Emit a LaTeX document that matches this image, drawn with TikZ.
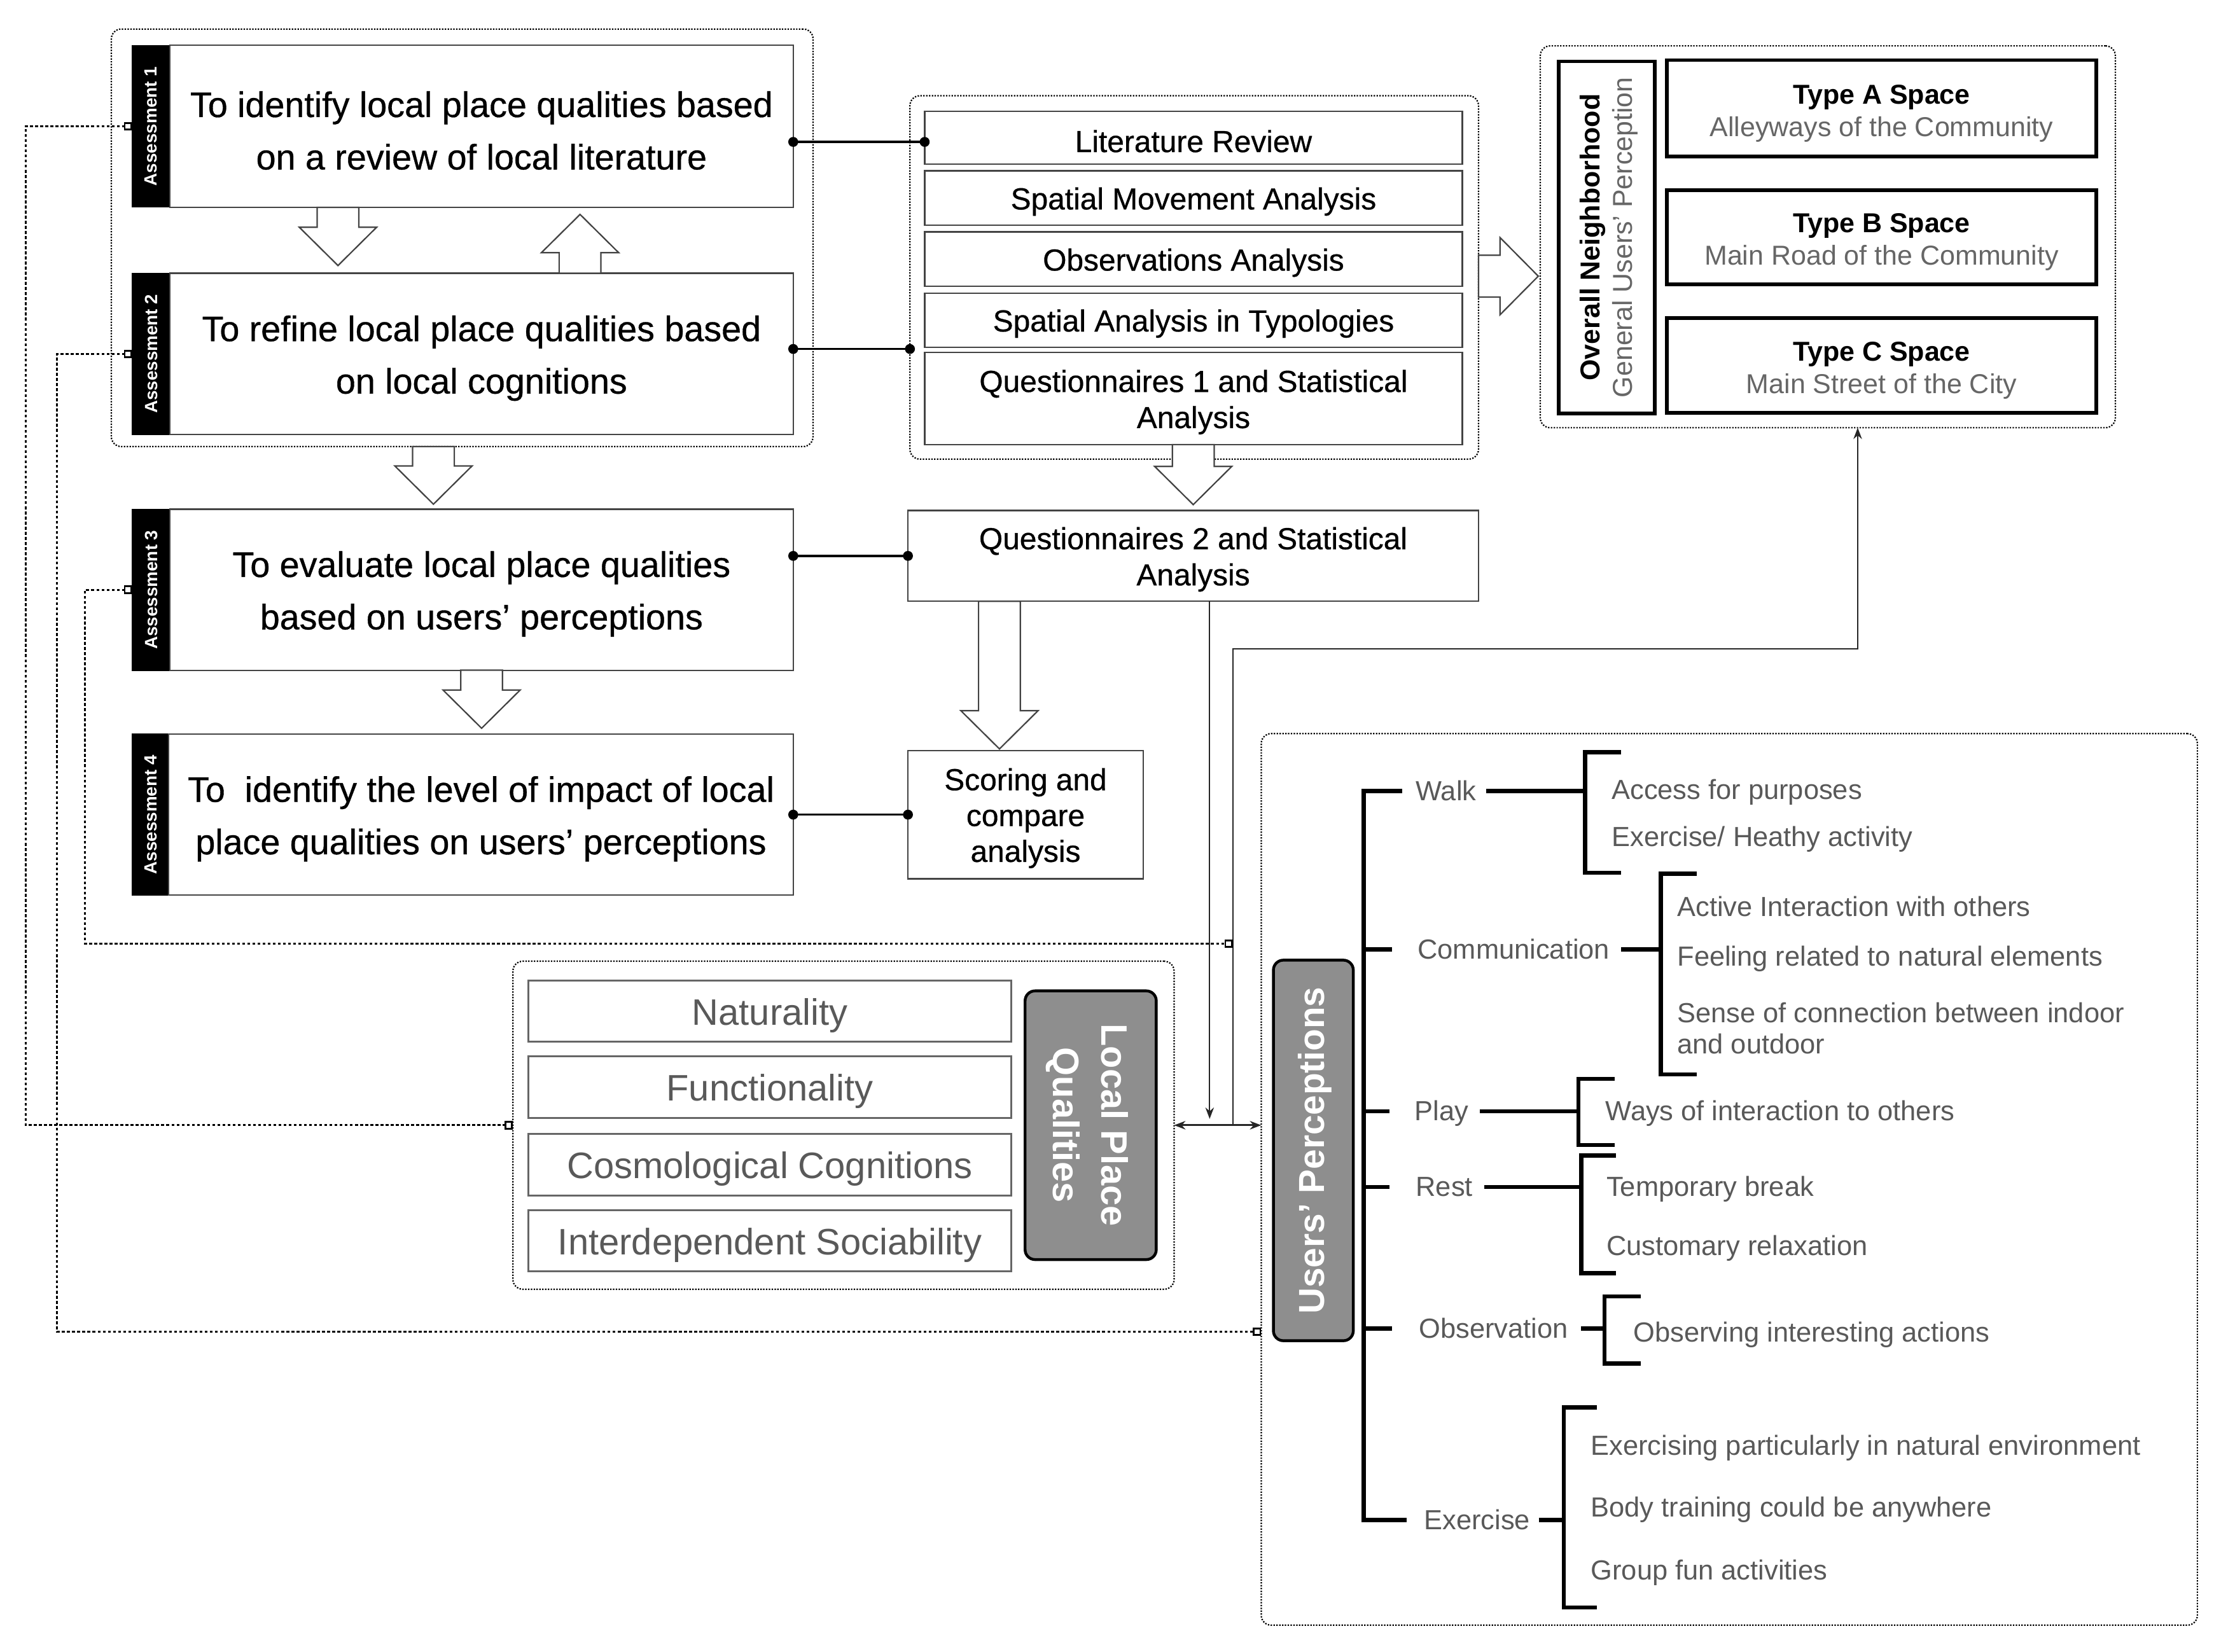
\documentclass[tikz,border=0pt]{standalone}
\usepackage{fontspec}
\setmainfont{Liberation Sans}
\newfontfamily\medfont{Liberation Sans}[FakeBold=0.6]
\usetikzlibrary{arrows.meta,calc}
\definecolor{tgray}{HTML}{595959}
\definecolor{dgray}{HTML}{666666}
\definecolor{lgray}{HTML}{8E8E8E}
\definecolor{bgray}{HTML}{444444}
\tikzset{
  grp/.style={draw=black, line width=1pt, dash pattern=on 1pt off 1pt, rounded corners=7pt, inner sep=0pt, outer sep=0pt},
  abox/.style={draw=bgray, line width=1pt, fill=white, inner sep=0pt, outer sep=0pt},
  atext/.style={inner sep=0pt, align=center, yshift=-3pt, font=\medfont\fontsize{25}{37}\selectfont},
  astrip/.style={fill=black, draw=black, line width=0.5pt, inner sep=0pt, outer sep=0pt, minimum width=26.5pt, minimum height=114pt},
  striptext/.style={rotate=90, text=white, inner sep=0pt, font=\bfseries\fontsize{12.5}{15}\selectfont},
  mbox/.style={draw=bgray, line width=1pt, fill=white, inner sep=0pt, outer sep=0pt, minimum width=379.6pt},
  mtext/.style={inner sep=0pt, align=center, yshift=-2.5pt, font=\medfont\fontsize{21.5}{25.5}\selectfont},
  tbox/.style={draw=black, line width=2.5pt, fill=white, inner sep=0pt, outer sep=0pt, minimum width=303pt, minimum height=67pt},
  ttext/.style={inner sep=0pt, align=center, yshift=-3.5pt, font=\fontsize{19.3}{23}\selectfont},
  qbox/.style={draw=dgray, line width=1.3pt, fill=white, inner sep=0pt, outer sep=0pt, minimum width=341pt, minimum height=43.4pt},
  qtext/.style={inner sep=0pt, yshift=-3pt, text=tgray, font=\fontsize{26}{30}\selectfont},
  glabel/.style={draw=black, line width=2pt, fill=lgray, rounded corners=7pt, inner sep=0pt, outer sep=0pt},
  gtext/.style={text=white, inner sep=0pt, align=center, font=\bfseries\fontsize{25.5}{34}\selectfont},
  conn/.style={line width=1.5pt, {Circle[length=7pt]}-{Circle[length=7pt]}, shorten <=-3.5pt, shorten >=-3.5pt},
  fb/.style={line width=1.3pt, dash pattern=on 2pt off 1.6pt, {Square[open,length=6pt,width=6pt]}-{Square[open,length=6pt,width=6pt]}},
  thinarr/.style={draw=black!85, line width=1pt, -{Stealth[length=8pt,width=6pt]}},
  tree/.style={line width=3pt},
  tl/.style={inner sep=0pt, anchor=west, yshift=-3pt, text=tgray, font=\fontsize{19.5}{22}\selectfont, text height=0.72em, text depth=0pt},
  barrow/.pic={\draw[draw=bgray, line width=1pt, fill=white] (-14.75,-#1) -- (-14.75,-27) -- (-27.25,-27) -- (0,0) -- (27.25,-27) -- (14.75,-27) -- (14.75,-#1) -- cycle;}
}
\begin{document}
\begin{tikzpicture}[x=1pt,y=-1pt]
\fill[white] (0,0) rectangle (1568,1166.4);
\useasboundingbox (0,0) rectangle (1568,1166.4);

% ---------- dotted groups ----------
\node[grp, minimum width=495.4pt, minimum height=294.8pt] (g1) at (326.3,167.9) {};
\node[grp, minimum width=401.4pt, minimum height=256.6pt] (g2) at (843.1,195.9) {};
\node[grp, minimum width=406pt, minimum height=269.6pt] (g3) at (1290.4,167.2) {};
\node[grp, minimum width=466.8pt, minimum height=231.6pt] (g4) at (595.5,794.5) {};
\node[grp, minimum width=660.9pt, minimum height=629.5pt] (g5) at (1220.85,832.75) {};

% ---------- assessments ----------
\node[astrip] (a1s) at (106.65,89.2) {};
\node[striptext] (a1l) at (a1s) {Assessment 1};
\node[abox, minimum width=440.1pt, minimum height=114.5pt] (a1) at (339.95,89.2) {};
\node[atext] (a1t) at (a1) {To identify local place qualities based\\on a review of local literature};

\node[astrip] (a2s) at (106.65,249.9) {};
\node[striptext] (a2l) at (a2s) {Assessment 2};
\node[abox, minimum width=440.1pt, minimum height=113.9pt] (a2) at (339.95,249.9) {};
\node[atext] (a2t) at (a2) {To refine local place qualities based\\on local cognitions};

\node[astrip] (a3s) at (106.65,416.4) {};
\node[striptext] (a3l) at (a3s) {Assessment 3};
\node[abox, minimum width=440.1pt, minimum height=113.8pt] (a3) at (339.95,416.4) {};
\node[atext] (a3t) at (a3) {To evaluate local place qualities\\based on users’ perceptions};

\node[astrip] (a4s) at (106.3,575.2) {};
\node[striptext] (a4l) at (a4s) {Assessment 4};
\node[abox, minimum width=440.9pt, minimum height=113.8pt] (a4) at (339.55,575.2) {};
\node[atext] (a4t) at (a4) {To~ identify the level of impact of local\\place qualities on users’ perceptions};

% ---------- middle column ----------
\node[mbox, minimum height=37.5pt] (lr) at (842.6,97.2) {};
\node[mtext] (lrt) at (lr) {Literature Review};
\node[mbox, minimum height=38.5pt] (sma) at (842.6,139.8) {};
\node[mtext] (smat) at (sma) {Spatial Movement Analysis};
\node[mbox, minimum height=38.5pt] (oa) at (842.6,183.0) {};
\node[mtext] (oat) at (oa) {Observations Analysis};
\node[mbox, minimum height=38.2pt] (sat) at (842.6,226.0) {};
\node[mtext] (satt) at (sat) {Spatial Analysis in Typologies};
\node[mbox, minimum height=64.9pt] (q1) at (842.6,281.45) {};
\node[mtext] (q1t) at (q1) {Questionnaires 1 and Statistical\\Analysis};
\node[mbox, minimum width=402.8pt, minimum height=64.2pt] (q2) at (842.4,392.5) {};
\node[mtext] (q2t) at (q2) {Questionnaires 2 and Statistical\\Analysis};
\node[mbox, minimum width=166.1pt, minimum height=90.7pt] (sc) at (724.05,575.2) {};
\node[mtext, font=\medfont\fontsize{21.5}{25.3}\selectfont] (sct) at (sc) {Scoring and\\compare\\analysis};

% ---------- type spaces ----------
\node[draw=black, line width=2.5pt, fill=white, minimum width=68pt, minimum height=248.5pt, inner sep=0pt] (vlab) at (1134.3,167.6) {};
\node[rotate=90, align=center, inner sep=0pt, font=\fontsize{19.3}{23}\selectfont] (vlabt) at ([xshift=1.5pt]vlab.center) {\textbf{Overall Neighborhood}\\\textcolor{dgray}{General Users’ Perception}};
\node[tbox, minimum height=68pt] (ta) at (1328.35,76.5) {};
\node[ttext] (tat) at (ta) {\textbf{Type A Space}\\\textcolor{dgray}{Alleyways of the Community}};
\node[tbox, minimum height=66.6pt] (tb) at (1328.35,167.5) {};
\node[ttext] (tbt) at (tb) {\textbf{Type B Space}\\\textcolor{dgray}{Main Road of the Community}};
\node[tbox, minimum height=67pt] (tc) at (1328.35,258.0) {};
\node[ttext] (tct) at (tc) {\textbf{Type C Space}\\\textcolor{dgray}{Main Street of the City}};

% ---------- local place qualities ----------
\node[qbox] (qn) at (543.5,713.9) {};
\node[qtext] (qnt) at (qn) {Naturality};
\node[qbox] (qf) at (543.5,767.6) {};
\node[qtext] (qft) at (qf) {Functionality};
\node[qbox] (qc) at (543.5,822.4) {};
\node[qtext] (qct) at (qc) {Cosmological Cognitions};
\node[qbox] (qi) at (543.5,876.1) {};
\node[qtext] (qit) at (qi) {Interdependent Sociability};
\node[glabel, minimum width=92.6pt, minimum height=189.7pt] (lpq) at (770,794.5) {};
\node[gtext, rotate=-90, font=\bfseries\fontsize{26}{34}\selectfont] (lpqt) at ([xshift=-2.5pt]lpq.center) {Local Place\\Qualities};

% ---------- users' perceptions ----------
\node[glabel, minimum width=56.4pt, minimum height=268.7pt] (up) at (927.2,812.3) {};
\node[gtext, rotate=90] (upt) at ([xshift=1pt]up.center) {Users’ Perceptions};

% ---------- block arrows ----------
\pic at (238.6,187.5) {barrow=41.1};
\pic[rotate=180] at (409.5,151.4) {barrow=41.5};
\pic at (306,356) {barrow=40.7};
\pic at (340,514.2) {barrow=41};
\pic at (842.4,356.3) {barrow=42.4};
\pic at (705.6,528.8) {barrow=104.2};
\pic[rotate=90] at (1086,195) {barrow=42.2};

% ---------- dot connectors ----------
\draw[conn] ([yshift=-3pt]lr.west -| a1.east) -- ([yshift=-3pt]lr.west);
\draw[conn] ([yshift=3.5pt]a2.east) -- ([yshift=3.5pt]a2.east -| g2.west);
\draw[conn] (q2.west -| a3.east) -- (q2.west);
\draw[conn] (a4.east) -- (a4.east -| sc.west);

% ---------- thin arrows ----------
\coordinate (qd) at (854,790);
\coordinate (jn) at (870.4,794.5);
\coordinate (jt) at (1311.5,458);
\draw[thinarr] (q2.south -| qd) -- (qd);
\draw[thinarr] (jn) -- (jn |- jt) -- (jt) -- (jt |- g3.south);
\draw[draw=black!85, line width=1.3pt, {Stealth[length=8pt,width=6pt]}-{Stealth[length=8pt,width=6pt]}] (g4.east) -- (g4.east -| g5.west);

% ---------- feedback dotted lines ----------
\coordinate (fbA) at (18,794.5);
\coordinate (fbB) at (40.3,940.3);
\coordinate (fbC) at (60.1,666.4);
\draw[fb] (a1s.west) -- (a1s.west -| fbA) -- (fbA |- g4.west) -- (g4.west);
\draw[fb] (a2s.west) -- (a2s.west -| fbB) -- (fbB) -- (fbB -| g5.west);
\draw[fb] (a3s.west) -- (a3s.west -| fbC) -- (fbC) -- (fbC -| jn);

% ---------- tree ----------
\draw[tree] (989.8,558.6) -- (962.8,558.6) -- (962.8,1073.3) -- (993,1073.3);
\draw[tree] (962.8,670.5) -- (982.6,670.5);
\draw[tree] (962.8,784.7) -- (981,784.7);
\draw[tree] (962.8,838.1) -- (981,838.1);
\draw[tree] (962.8,938.2) -- (982.6,938.2);

\node[tl] (walk) at (999.4,558.6) {Walk};
\node[tl] (comm) at (1000.7,670.5) {Communication};
\node[tl] (play) at (998.5,784.7) {Play};
\node[tl] (rest) at (999.4,838.1) {Rest};
\node[tl] (obs) at (1001.6,938.2) {Observation};
\node[tl] (exer) at (1005.2,1073.3) {Exercise};

\coordinate (bW) at (1119.1,531);
\coordinate (bC) at (1172.6,617);
\coordinate (bP) at (1114.3,761.7);
\coordinate (bR) at (1116.4,815.8);
\coordinate (bO) at (1132.8,915.3);
\coordinate (bE) at (1104,993.8);

\draw[tree] ([xshift=7pt,yshift=3pt]walk.east) -- ([yshift=3pt]walk.east -| bW);
\draw[tree] ([xshift=8pt,yshift=3pt]comm.east) -- ([yshift=3pt]comm.east -| bC);
\draw[tree] ([xshift=8pt,yshift=3pt]play.east) -- ([yshift=3pt]play.east -| bP);
\draw[tree] ([xshift=8pt,yshift=3pt]rest.east) -- ([yshift=3pt]rest.east -| bR);
\draw[tree] ([xshift=9pt,yshift=3pt]obs.east) -- ([yshift=3pt]obs.east -| bO);
\draw[tree] ([xshift=6pt,yshift=3pt]exer.east) -- ([yshift=3pt]exer.east -| bE);

\draw[tree] (1144.3,531) -- (bW) -- (1119.1,616.3) -- (1144.3,616.3);
\draw[tree] (1198,617) -- (bC) -- (1172.6,758.6) -- (1198,758.6);
\draw[tree] (1140,761.7) -- (bP) -- (1114.3,808.4) -- (1140,808.4);
\draw[tree] (1140.7,815.8) -- (bR) -- (1116.4,899.1) -- (1140.7,899.1);
\draw[tree] (1158.4,915.3) -- (bO) -- (1132.8,962.6) -- (1158.4,962.6);
\draw[tree] (1127.5,993.8) -- (bE) -- (1104,1135) -- (1127.5,1135);

\node[tl] (w1) at (1137.7,557.8) {Access for purposes};
\node[tl] (w2) at (1137.7,591) {Exercise/ Heathy activity};
\node[tl] (c1) at (1184,640.4) {Active Interaction with others};
\node[tl] (c2) at (1184,675.5) {Feeling related to natural elements};
\node[inner sep=0pt, anchor=north west, align=left, text=tgray, font=\fontsize{19.5}{22}\selectfont] (c3) at (1184,707.5) {Sense of connection between indoor\\and outdoor};
\node[tl] (p1) at (1133.3,784.7) {Ways of interaction to others};
\node[tl] (r1) at (1134,838.1) {Temporary break};
\node[tl] (r2) at (1134,879.7) {Customary relaxation};
\node[tl] (o1) at (1153,940.9) {Observing interesting actions};
\node[tl] (e1) at (1123,1020.8) {Exercising particularly in natural environment};
\node[tl] (e2) at (1123,1064.2) {Body training could be anywhere};
\node[tl] (e3) at (1123,1108.7) {Group fun activities};
\end{tikzpicture}
\end{document}
